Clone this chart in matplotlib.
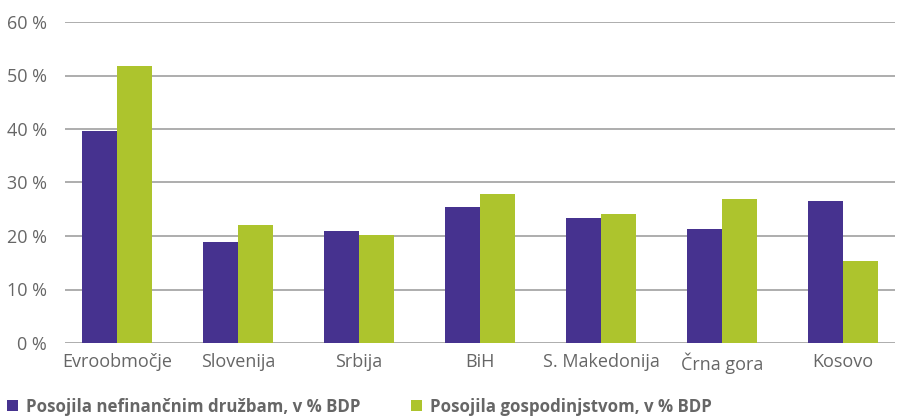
import matplotlib.pyplot as plt
import numpy as np

plt.rcParams['font.family'] = ['Open Sans', 'DejaVu Sans']

# data
drzave = ['Evroobmočje', 'Slovenija', 'Srbija', 'BiH', 'S. Makedonija', 'Črna gora', 'Kosovo']
druzbe = [39.6, 18.9, 20.9, 25.4, 23.4, 21.3, 26.5]
gospodinjstva = [51.8, 22.1, 20.2, 27.9, 24.1, 26.9, 15.3]
yticks = [0, 10, 20, 30, 40, 50, 60]

purple = '#46328f'
green = '#adc42d'
txt = '#666666'

fig = plt.figure(figsize=(9.01, 4.16), dpi=100)
ax = fig.add_axes([65 / 901, 1 - 343 / 416, 830 / 901, 321 / 416])

x = np.arange(len(drzave))
w = 0.29
ax.bar(x - w / 2, druzbe, w, color=purple, label='Posojila nefinančnim družbam, v % BDP', zorder=3)
ax.bar(x + w / 2, gospodinjstva, w, color=green, label='Posojila gospodinjstvom, v % BDP', zorder=3)

ax.set_xlim(-0.43, 6.43)
ax.set_ylim(0, 60)
ax.set_yticks(yticks)
ax.set_yticklabels([f'{v} %' for v in yticks])
ax.set_xticks(x)
ax.set_xticklabels(drzave)
ax.yaxis.grid(True, color='#a0a0a0', linewidth=1.2, zorder=0)
for s in ax.spines.values():
    s.set_visible(False)
ax.tick_params(axis='both', length=0, labelsize=13, colors=txt)
ax.tick_params(axis='y', pad=13)
ax.tick_params(axis='x', pad=7)

leg = fig.legend(loc='lower left', bbox_to_anchor=(-0.009, -0.036), ncol=2, frameon=False,
                 handlelength=0.65, handleheight=0.65, handletextpad=0.45, columnspacing=3.0,
                 prop={'weight': 'bold', 'size': 12.2})
for t in leg.get_texts():
    t.set_color(txt)

fig.savefig('out.png', dpi=100)
